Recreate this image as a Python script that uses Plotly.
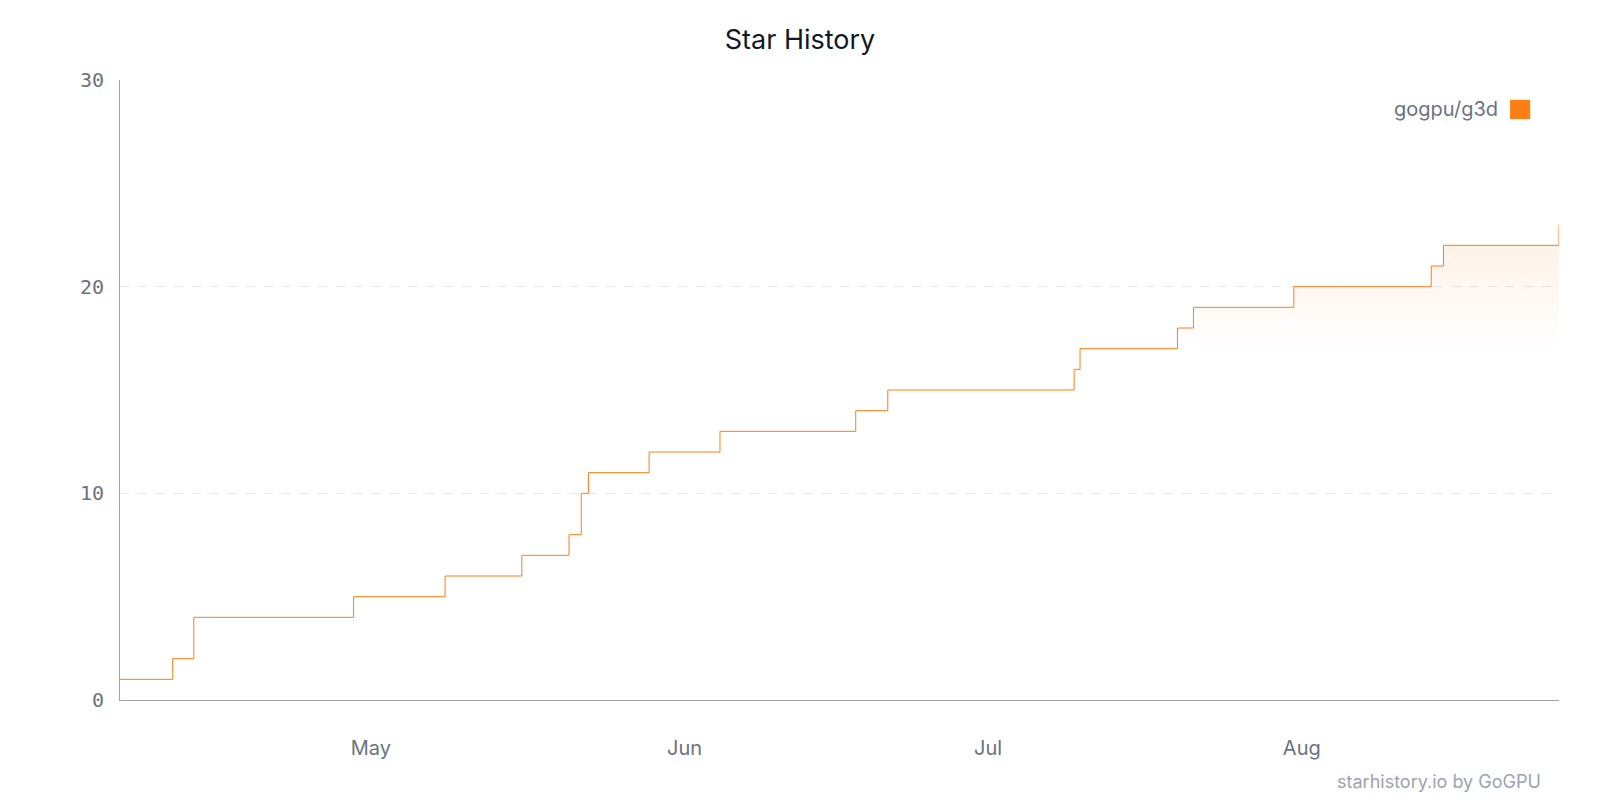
import plotly.graph_objects as go

dates = ["2025-04-06 05:00", "2025-04-11 10:00", "2025-04-13 12:00", "2025-04-29 07:00",
         "2025-05-08 08:00", "2025-05-15 22:00", "2025-05-20 14:00", "2025-05-21 19:00",
         "2025-05-22 12:00", "2025-05-28 12:00", "2025-06-04 12:00", "2025-06-17 22:00",
         "2025-06-21 02:00", "2025-07-09 12:00", "2025-07-10 02:00", "2025-07-19 17:00",
         "2025-07-21 07:00", "2025-07-31 05:00", "2025-08-13 19:00", "2025-08-15 00:00",
         "2025-08-26 10:00"]
stars = [1, 2, 4, 5, 6, 7, 8, 10, 11, 12, 13, 14, 15, 16, 17, 18, 19, 20, 21, 22, 23]
tick_vals = ["2025-05-01", "2025-06-01", "2025-07-01", "2025-08-01"]
tick_text = ["May", "Jun", "Jul", "Aug"]
repo = "gogpu/g3d"

orange = "#fd7e14"
fill_start = 15
fig = go.Figure()
fig.add_trace(go.Scatter(x=dates[fill_start:], y=[17] * len(dates[fill_start:]),
                         mode="lines", line=dict(width=0, shape="hv"), hoverinfo="skip",
                         showlegend=False))
fig.add_trace(go.Scatter(x=dates[fill_start:], y=stars[fill_start:], mode="lines",
                         line=dict(width=0, shape="hv"), fill="tonexty",
                         fillgradient=dict(type="vertical",
                                           colorscale=[[0, "rgba(253,126,20,0)"],
                                                       [1, "rgba(253,126,20,0.12)"]]),
                         hoverinfo="skip", showlegend=False))
fig.add_trace(go.Scatter(x=dates, y=stars, mode="lines",
                         line=dict(color=orange, width=1, shape="hv"), name=repo,
                         showlegend=False))

fig.update_layout(
    width=1600, height=800, plot_bgcolor="white", paper_bgcolor="white",
    margin=dict(l=120, r=41, t=80, b=100),
    title=dict(text="Star History", x=0.5, xanchor="center", y=0.951, yanchor="middle",
               font=dict(family="Inter", size=27, color="#111827")),
    xaxis=dict(range=["2025-04-06 05:00", "2025-08-26 10:00"], tickvals=tick_vals,
               ticktext=tick_text, showgrid=False, showline=True, linecolor="#9ca3af",
               linewidth=1, ticks="outside", ticklen=0, ticklabelstandoff=30,
               tickfont=dict(family="Inter", size=20, color="#6b7280"), zeroline=False),
    yaxis=dict(range=[0, 30], tickvals=[0, 10, 20, 30], showgrid=True, gridcolor="#e5e7eb",
               griddash="dash", gridwidth=1, showline=True, linecolor="#9ca3af",
               ticks="outside", ticklen=0, ticklabelstandoff=11, zeroline=False,
               tickfont=dict(family="DejaVu Sans Mono", size=20, color="#6b7280")),
    annotations=[
        dict(text=repo, xref="paper", yref="paper", x=0.959, y=0.953, xanchor="right",
             yanchor="middle", showarrow=False,
             font=dict(family="Inter", size=20, color="#6b7280")),
        dict(text="starhistory.io by GoGPU", xref="paper", yref="paper", x=1.0, xshift=-16,
             y=-0.131, xanchor="right", yanchor="middle", showarrow=False,
             font=dict(family="Inter", size=18, color="#9ca3af")),
    ],
    shapes=[dict(type="rect", xref="paper", yref="paper", x0=0.966, x1=0.980,
                 y0=0.937, y1=0.968, fillcolor=orange, line=dict(width=0))],
)
fig.write_html("out.html", config={"displayModeBar": False},
               post_script="document.body.style.margin='0';document.body.style.overflow='hidden';")
